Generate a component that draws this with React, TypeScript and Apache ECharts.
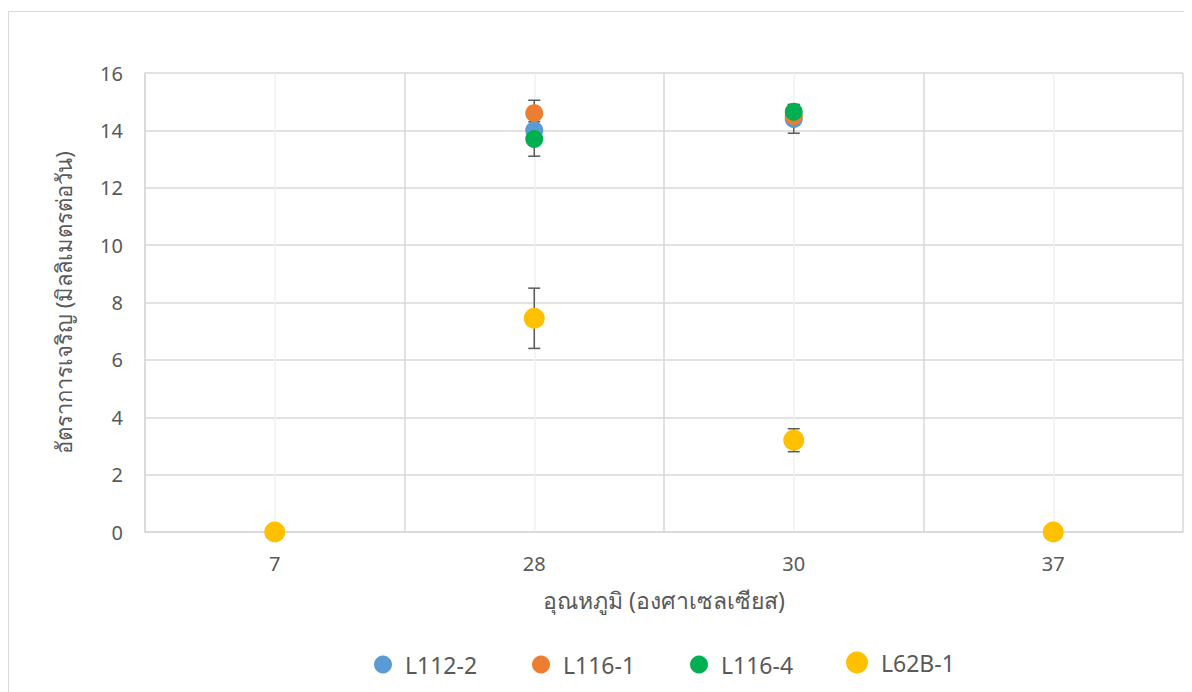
import React, { useEffect, useRef } from "react";
import * as echarts from "echarts";

const categories = ["7", "28", "30", "37"];
const seriesNames = ["L112-2", "L116-1", "L116-4", "L62B-1"];
const l112_2 = [0, 14.0, 14.4, 0];
const l116_1 = [0, 14.6, 14.5, 0];
const l116_4 = [0, 13.7, 14.65, 0];
const l62b_1 = [0, 7.45, 3.2, 0];
const l112_2Err = [0, 0.5, 0.5, 0];
const l116_1Err = [0, 0.45, 0.3, 0];
const l116_4Err = [0, 0.6, 0.25, 0];
const l62b_1Err = [0, 1.05, 0.4, 0];
const colors = ["#5b9bd5", "#ed7d31", "#00b050", "#ffc000"];
const yTicks = [0, 16, 2];

const FONT = "'Noto Sans', 'Noto Sans CJK SC', sans-serif";

function errSeries(vals: number[], errs: number[]) {
  return {
    type: "custom",
    z: 1,
    silent: true,
    data: vals.map((v, i) => [i, v - errs[i], v + errs[i], errs[i]]),
    renderItem: (params: any, api: any) => {
      if (api.value(3) === 0) return null;
      const lo = api.coord([api.value(0), api.value(1)]);
      const hi = api.coord([api.value(0), api.value(2)]);
      const w = 6;
      const style = { stroke: "#595959", lineWidth: 1.5 };
      return {
        type: "group",
        children: [
          { type: "line", shape: { x1: lo[0], y1: lo[1], x2: hi[0], y2: hi[1] }, style },
          { type: "line", shape: { x1: lo[0] - w, y1: lo[1], x2: lo[0] + w, y2: lo[1] }, style },
          { type: "line", shape: { x1: hi[0] - w, y1: hi[1], x2: hi[0] + w, y2: hi[1] }, style },
        ],
      };
    },
  };
}

export default function App() {
  const ref = useRef<HTMLDivElement>(null);
  useEffect(() => {
    document.body.style.overflow = "hidden";
    const chart = echarts.init(ref.current!, null, { renderer: "svg" });
    const vals = [l112_2, l116_1, l116_4, l62b_1];
    const errs = [l112_2Err, l116_1Err, l116_4Err, l62b_1Err];
    const scatter = vals.map((v, i) => ({
      name: seriesNames[i],
      type: "scatter",
      z: 3,
      symbol: "circle",
      symbolSize: i === 3 ? 21 : 18,
      itemStyle: { color: colors[i], opacity: 1 },
      data: v.map((y, j) => [j, y]),
      markLine:
        i === 0
          ? {
              silent: true,
              symbol: "none",
              label: { show: false },
              lineStyle: { color: "#f0f0f0", width: 1.5, type: "solid" },
              data: categories.map((c, k) => ({ xAxis: k })),
              z: 0,
            }
          : undefined,
    }));
    const legendLefts = [360, 518, 676, 832];
    const legends = seriesNames.map((n, i) => ({
      data: [n],
      left: legendLefts[i],
      top: i === 3 ? 634 : 636,
      icon: "circle",
      itemWidth: i === 3 ? 38 : 34,
      itemHeight: i === 3 ? 22 : 18,
      textStyle: { fontFamily: FONT, fontSize: 23, color: "#595959" },
    }));
    chart.setOption({
      animation: false,
      color: colors,
      grid: { left: 136, top: 61, width: 1038, height: 459, containLabel: false },
      legend: legends,
      xAxis: {
        type: "category",
        data: categories,
        boundaryGap: true,
        name: "อุณหภูมิ (องศาเซลเซียส)",
        nameLocation: "middle",
        nameGap: 56,
        nameTextStyle: { fontFamily: FONT, fontSize: 23, color: "#595959" },
        axisLine: { show: true, lineStyle: { color: "#d9d9d9", width: 1.5 } },
        axisTick: { show: false },
        axisLabel: { fontFamily: FONT, fontSize: 20, color: "#595959", margin: 21 },
        splitLine: { show: true, lineStyle: { color: "#d9d9d9", width: 1.5 } },
      },
      yAxis: {
        type: "value",
        min: yTicks[0],
        max: yTicks[1],
        interval: yTicks[2],
        name: "อัตราการเจริญ (มิลลิเมตรต่อวัน)",
        nameLocation: "middle",
        nameGap: 71,
        nameRotate: 90,
        nameTextStyle: { fontFamily: FONT, fontSize: 22, color: "#595959" },
        axisLine: { show: true, lineStyle: { color: "#d9d9d9", width: 1.5 } },
        axisTick: { show: false },
        axisLabel: { fontFamily: FONT, fontSize: 20, color: "#595959", margin: 22 },
        splitLine: { show: true, lineStyle: { color: "#d9d9d9", width: 1.5 } },
      },
      series: [...vals.map((v, i) => errSeries(v, errs[i])), ...scatter],
    });
    return () => chart.dispose();
  }, []);
  return (
    <div
      ref={ref}
      style={{
        marginTop: 3,
        width: 1200,
        height: 700,
        border: "1px solid #d9d9d9",
        boxSizing: "border-box",
        background: "#fff",
      }}
    />
  );
}
